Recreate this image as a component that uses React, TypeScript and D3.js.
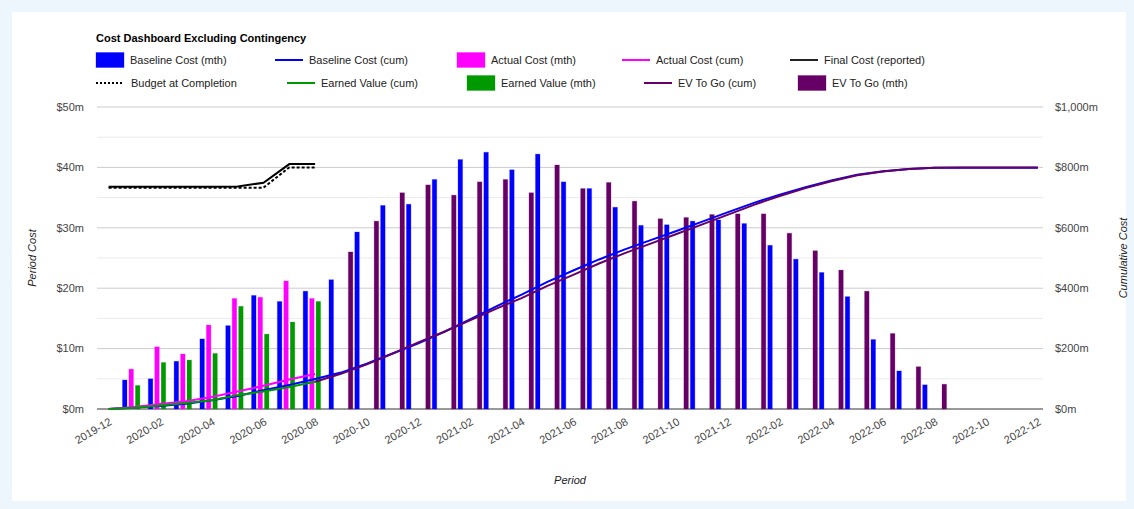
import React from 'react';
import * as d3 from 'd3';

const months = [
  '2019-12',
  '2020-01', '2020-02', '2020-03', '2020-04', '2020-05', '2020-06',
  '2020-07', '2020-08', '2020-09', '2020-10', '2020-11', '2020-12',
  '2021-01', '2021-02', '2021-03', '2021-04', '2021-05', '2021-06',
  '2021-07', '2021-08', '2021-09', '2021-10', '2021-11', '2021-12',
  '2022-01', '2022-02', '2022-03', '2022-04', '2022-05', '2022-06',
  '2022-07', '2022-08', '2022-09', '2022-10', '2022-11', '2022-12',
];

// monthly values ($m), left axis
const baselineMth = [4.8, 5.0, 7.9, 11.6, 13.8, 18.8, 17.8, 19.5, 21.4, 29.3, 33.7, 33.9,
  38.0, 41.3, 42.5, 39.6, 42.2, 37.6, 36.5, 33.4, 30.4, 30.5, 31.1, 31.3,
  30.7, 27.1, 24.8, 22.6, 18.6, 11.5, 6.3, 4.0]; // from 2020-01
const actualMth = [6.6, 10.3, 9.1, 13.9, 18.3, 18.5, 21.2, 18.3]; // from 2020-01
const earnedMth = [3.9, 7.7, 8.1, 9.2, 17.0, 12.4, 14.4, 17.8]; // from 2020-01
const evToGoMth = [26.0, 31.1, 35.8, 37.1,
  35.4, 37.6, 38.0, 35.8, 40.4, 36.5, 37.5, 34.4, 31.5, 31.7, 32.2, 32.3,
  32.3, 29.1, 26.2, 23.0, 19.5, 12.5, 7.0, 4.1]; // from 2020-09

// cumulative values ($m), right axis
const baselineCum = [0,
  4.8, 9.8, 17.7, 29.3, 43.1, 61.9, 79.7, 99.2, 120.6, 149.9, 183.6, 217.5,
  255.5, 296.8, 339.3, 378.9, 421.1, 458.7, 495.2, 528.6, 559.0, 589.5, 620.6, 651.9,
  682.6, 709.7, 734.5, 757.1, 775.7, 787.5, 795.0, 799.0, 799.0, 799.0, 799.0, 799.0]; // from 2019-12
const actualCum = [0, 6.6, 16.9, 26.0, 39.9, 58.2, 76.7, 97.9, 116.2]; // from 2019-12
const earnedCum = [0, 3.9, 11.6, 19.7, 28.9, 45.9, 58.3, 72.7, 90.5]; // from 2019-12
const evToGoCum = [90.5, 116.5, 147.6, 183.4, 220.5,
  255.9, 293.5, 331.5, 367.3, 407.7, 444.2, 481.7, 516.1, 547.6, 579.3, 611.5, 643.8,
  676.1, 705.2, 731.4, 754.4, 773.9, 786.4, 794.5, 799.0, 800.0, 800.0, 800.0, 800.0]; // from 2020-08
const finalCost = [736, 736, 736, 736, 736, 737, 749, 811, 811]; // from 2019-12
const budgetAtCompletion = [733, 733, 733, 733, 733, 733, 733, 800, 800]; // from 2019-12

const periodTicks = [0, 10, 20, 30, 40, 50];
const periodMinor = [5, 15, 25, 35, 45];
const cumTicks = [0, 200, 400, 600, 800, 1000];

const W = 1134;
const H = 509;
const left = 97;
const right = 1043;
const top = 107;
const bottom = 409;
const font = 'Arial, "Liberation Sans", sans-serif';

const x = d3.scaleLinear().domain([-0.45, 36.2]).range([left, right]);
const yL = d3.scaleLinear().domain([0, 50]).range([bottom, top]);
const yR = d3.scaleLinear().domain([0, 1000]).range([bottom, top]);
const monthW = x(1) - x(0);
const sub = d3.scaleBand()
  .domain(['baseline', 'actual', 'earned', 'evToGo'])
  .range([-monthW / 2, monthW / 2])
  .paddingInner(0.3)
  .paddingOuter(0.15);

const barSeries = [
  { key: 'baseline', color: '#0000ff', start: '2020-01', values: baselineMth },
  { key: 'actual', color: '#ff00ff', start: '2020-01', values: actualMth },
  { key: 'earned', color: '#009900', start: '2020-01', values: earnedMth },
  { key: 'evToGo', color: '#660066', start: '2020-09', values: evToGoMth },
];

const lineSeries = [
  { key: 'baselineCum', color: '#0000ff', start: '2019-12', values: baselineCum, dash: null },
  { key: 'actualCum', color: '#ff00ff', start: '2019-12', values: actualCum, dash: null },
  { key: 'earnedCum', color: '#009900', start: '2019-12', values: earnedCum, dash: null },
  { key: 'evToGoCum', color: '#660066', start: '2020-08', values: evToGoCum, dash: null },
  { key: 'bac', color: '#000000', start: '2019-12', values: budgetAtCompletion, dash: '3,2' },
  { key: 'final', color: '#000000', start: '2019-12', values: finalCost, dash: null },
];

const legendRows = [
  [
    { label: 'Baseline Cost (mth)', type: 'box', color: '#0000ff', x: 96 },
    { label: 'Baseline Cost (cum)', type: 'line', color: '#0000ff', x: 275 },
    { label: 'Actual Cost (mth)', type: 'box', color: '#ff00ff', x: 457 },
    { label: 'Actual Cost (cum)', type: 'line', color: '#ff00ff', x: 622 },
    { label: 'Final Cost (reported)', type: 'line', color: '#222222', x: 790 },
  ],
  [
    { label: 'Budget at Completion', type: 'dash', color: '#000000', x: 96 },
    { label: 'Earned Value (cum)', type: 'line', color: '#009900', x: 287 },
    { label: 'Earned Value (mth)', type: 'box', color: '#009900', x: 467 },
    { label: 'EV To Go (cum)', type: 'line', color: '#660066', x: 644 },
    { label: 'EV To Go (mth)', type: 'box', color: '#660066', x: 798 },
  ],
];

const line = d3.line<[number, number]>()
  .x(d => x(d[0]))
  .y(d => yR(d[1]));

export default function App() {
  return (
    <svg width={W} height={H} style={{ position: 'absolute', left: 0, top: 0 }} fontFamily={font}>
      <rect width={W} height={H} fill="#eef6fd" />
      <rect x={12} y={12} width={1114} height={489} fill="#ffffff" />

      <text x={96} y={42} fontSize={11} fontWeight="bold" fill="#000">Cost Dashboard Excluding Contingency</text>

      {legendRows.map((row, ri) => {
        const cy = 60 + ri * 23;
        return row.map(it => (
          <g key={it.label}>
            {it.type === 'box' && (
              <rect x={it.x} y={cy - 7.5} width={28} height={15} fill={it.color}
                stroke={it.color} strokeOpacity={0.3} />
            )}
            {it.type === 'line' && (
              <line x1={it.x} x2={it.x + 28} y1={cy} y2={cy} stroke={it.color} strokeWidth={2} />
            )}
            {it.type === 'dash' && (
              <line x1={it.x} x2={it.x + 27} y1={cy} y2={cy} stroke={it.color} strokeWidth={2} strokeDasharray="2,2" />
            )}
            <text x={it.x + (it.type === 'dash' ? 35 : 34)} y={cy} dy="0.35em" fontSize={11} fill="#222">{it.label}</text>
          </g>
        ));
      })}

      {periodMinor.map(v => (
        <line key={'m' + v} x1={left} x2={right} y1={yL(v)} y2={yL(v)} stroke="#ebebeb" />
      ))}
      {periodTicks.map(v => (
        <line key={'g' + v} x1={left} x2={right} y1={yL(v)} y2={yL(v)} stroke={v === 0 ? '#333' : '#cccccc'} />
      ))}

      {periodTicks.map(v => (
        <text key={'l' + v} x={84} y={yL(v)} dy="0.35em" textAnchor="end" fontSize={11} fill="#444">{`$${v}m`}</text>
      ))}
      {cumTicks.map(v => (
        <text key={'r' + v} x={1055} y={yR(v)} dy="0.35em" fontSize={11} fill="#444">{`$${d3.format(',')(v)}m`}</text>
      ))}

      {months.map((m, i) => i % 2 === 0 ? (
        <text key={m} transform={`translate(${x(i) + 4},${424}) rotate(-30)`} textAnchor="end" fontSize={11} fill="#444">{m}</text>
      ) : null)}

      <text transform={`translate(36,${(top + bottom) / 2}) rotate(-90)`} textAnchor="middle" fontSize={11} fontStyle="italic" fill="#222">Period Cost</text>
      <text transform={`translate(1127,${(top + bottom) / 2}) rotate(-90)`} textAnchor="middle" fontSize={11} fontStyle="italic" fill="#222">Cumulative Cost</text>
      <text x={(left + right) / 2} y={484} textAnchor="middle" fontSize={11} fontStyle="italic" fill="#222">Period</text>

      {barSeries.map(s => {
        const i0 = months.indexOf(s.start);
        return (
          <g key={s.key}>
            {s.values.map((v, j) => (
              <rect key={j}
                x={x(i0 + j) + (sub(s.key) as number)}
                y={yL(v)}
                width={sub.bandwidth()}
                height={yL(0) - yL(v)}
                fill={s.color}
                stroke={s.color}
                strokeOpacity={0.25}
                strokeWidth={1} />
            ))}
          </g>
        );
      })}

      {lineSeries.map(s => {
        const i0 = months.indexOf(s.start);
        const pts = s.values.map((v, j) => [i0 + j, v] as [number, number]);
        return (
          <path key={s.key} d={line(pts) || ''} fill="none" stroke={s.color} strokeWidth={2}
            strokeDasharray={s.dash || undefined} />
        );
      })}
    </svg>
  );
}
